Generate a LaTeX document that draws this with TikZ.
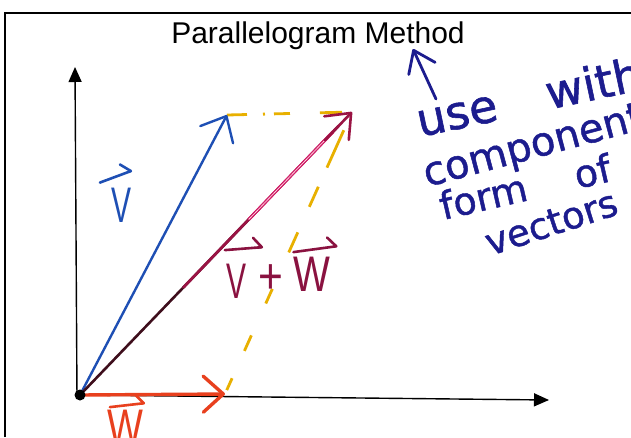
\documentclass[tikz,border=0pt]{standalone}
\usepackage{fontspec}
\newfontfamily\titlefont{Liberation Sans}
\newfontfamily\letterfont{Liberation Sans}
\newfontfamily\handfont[FakeBold=1.2]{DejaVu Sans}
\usetikzlibrary{arrows.meta,calc}
\definecolor{vblue}{HTML}{1E4FB4}
\definecolor{navyink}{HTML}{1C1C8E}
\definecolor{wred}{HTML}{E8401E}
\definecolor{resdark}{HTML}{3E0E1C}
\definecolor{resmid}{HTML}{9A1444}
\definecolor{resmag}{HTML}{D41E6A}
\definecolor{lblcrim}{HTML}{8A1240}
\definecolor{dashyel}{HTML}{E8B000}
\begin{document}
\begin{tikzpicture}[x=1pt,y=-1pt,
  frameline/.style={line width=1.5pt, black},
  axisline/.style={line width=1.4pt, black, -{Triangle[length=15pt,width=13pt]}},
  vecline/.style={line width=2.4pt, line cap=round, line join=round},
  yeldash/.style={line width=2.8pt, dashyel, line cap=butt},
  letter/.style={inner sep=0pt, font=\letterfont\fontsize{50}{50}\selectfont},
  lblarrow/.style={line width=2.6pt, line cap=round, -{Straight Barb[harpoon,length=8pt,width=20pt,round]}},
  handtext/.style={inner sep=0pt, anchor=base west, text=navyink}]
\useasboundingbox (0,0) rectangle (631,437);
\begin{scope}
\clip (0,0) rectangle (631,437);
\fill[white] (0,0) rectangle (631,437);
% frame
\draw[frameline] (5,437) -- (5,13) -- (631,13);
% title
\node[font=\titlefont\fontsize{30}{30}\selectfont, anchor=base, inner sep=0pt] (title) at (318,43) {Parallelogram Method};
% points
\coordinate (O) at (80,395);
\coordinate (Vt) at (227,115);
\coordinate (Rt) at (352,112);
\coordinate (Wt) at (225,394);
\coordinate (Ytop) at (75,67);
\coordinate (Ybot) at (77,398);
\coordinate (Xend) at (549,400);
% axes
\draw[axisline] (Ybot) -- (Ytop);
\draw[axisline] (O) -- (Xend);
% yellow dashed sides
\draw[yeldash, dash pattern=on 20pt off 16pt on 2pt off 9pt on 16pt off 30pt on 22pt off 30pt] (Vt) -- (Rt);
\draw[yeldash, dash pattern=on 41pt off 21pt on 22pt off 28pt on 22pt off 40pt on 16pt off 35pt on 17pt off 30pt on 13pt off 40pt] ($(Rt)!20pt!(Wt)$) -- (Wt);
% vectors
\draw[vecline, vblue, -{Straight Barb[length=21pt,width=37pt,round]}] (O) -- (Vt);
\draw[vecline, wred, line width=3.4pt, -{Straight Barb[length=20pt,width=36pt,round]}] (O) -- (Wt);
\draw[vecline, resdark, line width=2.6pt] (O) -- ($(O)!0.9!(Rt)$);
\draw[resmid, line width=2.8pt, line cap=round] ($(O)!0.38!(Rt)$) -- ($(O)!0.95!(Rt)$);
\draw[resmag, line width=1.3pt, double=white!65!pink, double distance=0.6pt] ($(O)!0.62!(Rt)$) -- ($(O)!0.93!(Rt)$);
\draw[vecline, resmid, line width=2.6pt, -{Straight Barb[length=21pt,width=34pt,round]}] ($(O)!0.9!(Rt)$) -- (Rt);
\node[circle, fill=black, inner sep=0pt, minimum size=11pt] (odot) at (O) {};
% label V
\node[letter, text=vblue, xscale=0.6] (vlab) at (122,205) {V};
\draw[lblarrow, vblue] ($(vlab.north west)+(-12,-5)$) -- ($(vlab.north east)+(0,-17)$);
% label V+W
\node[letter, text=lblcrim, xscale=0.6] (vw1) at (237,281.5) {V};
\node[letter, text=lblcrim, xscale=0.85] (vw2) at (271,279) {+};
\node[letter, text=lblcrim, xscale=0.78] (vw3) at (312,274.5) {W};
\draw[lblarrow, lblcrim] ($(vw1.north west)+(-2,-14)$) -- ($(vw1.north east)+(16,-17)$);
\draw[lblarrow, lblcrim] ($(vw3.north west)+(0,-5)$) -- ($(vw3.north east)+(7,-11)$);
% label W
\node[letter, text=wred, xscale=0.76] (wlab) at (125,427.5) {W};
\draw[lblarrow, wred] ($(wlab.north west)+(3,-3)$) -- ($(wlab.north east)+(2,-7)$);
% handwritten note
\coordinate (p0) at (436,99);
\coordinate (p1) at (413,49);
\draw[navyink, line width=2.8pt, line cap=round, -{Straight Barb[length=20pt,width=29pt,round]}] (p0) -- (p1);
\node[handtext, font=\handfont\fontsize{46}{46}\selectfont, rotate=12] (t1) at (420,137) {use\hspace{1.1em}with};
\node[handtext, font=\handfont\fontsize{40}{40}\selectfont, rotate=15] (t2) at (427,187) {components};
\node[handtext, font=\handfont\fontsize{38}{38}\selectfont, rotate=13] (t3) at (443,220) {form\hspace{1.3em}of};
\node[handtext, font=\handfont\fontsize{37}{37}\selectfont, rotate=18] (t4) at (490,256) {vectors};
\end{scope}
\end{tikzpicture}
\end{document}
